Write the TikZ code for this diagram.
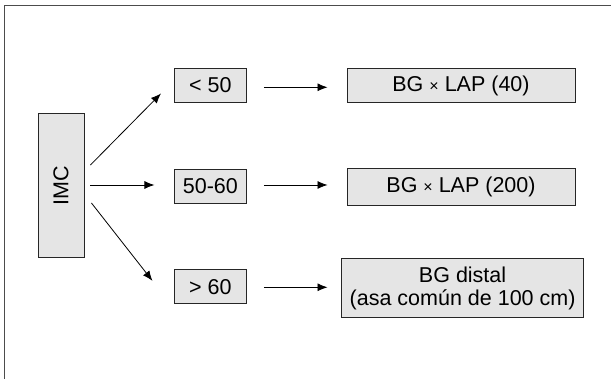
\documentclass[tikz,border=0pt]{standalone}
\usepackage{fontspec}
\setmainfont{Liberation Sans}
\usepackage{tikz}
\usetikzlibrary{arrows.meta,positioning}

\tikzset{
  box/.style={draw=black!85,fill=gray!20,line width=0.9pt,inner sep=0pt,
    font=\fontsize{21.5}{23}\selectfont,align=center},
  arr/.style={line width=0.8pt,-{Latex[length=10pt,width=8pt]}}
}

\begin{document}
\begin{tikzpicture}[x=1pt,y=1pt]
			\useasboundingbox (0,0) rectangle (611,379);
			\draw[black!70,line width=1pt] (4,-20) rectangle (630,373);
			\node[box,minimum width=144pt,minimum height=46pt,rotate=90] (imc) at (61,193.3) {IMC};
			\node[box,minimum width=72pt,minimum height=34pt] (lt) at (210.4,293.5) {< 50};
			\node[box,minimum width=72pt,minimum height=34pt] (mid) at (210.4,192.8) {50-60};
			\node[box,minimum width=72pt,minimum height=34pt] (gt) at (210.4,92.3) {> 60};
			\node[box,minimum width=228pt,minimum height=34pt] (bg1) at (461,293.5) {BG {\fontsize{16}{16}\selectfont×} LAP (40)};
			\node[box,minimum width=228pt,minimum height=37pt] (bg2) at (461,191.7) {BG {\fontsize{16}{16}\selectfont×} LAP (200)};
			\node[box,minimum width=241.6pt,minimum height=59.4pt] (bg3) at (462.6,91) {BG distal\\(asa común de 100 cm)};
			\draw[arr] ([shift={(6,20.7)}]imc.south) -- ([shift={(-13,9.4)}]lt.south west);
			\draw[arr] ([shift={(6,0.7)}]imc.south) -- ([shift={(-19.5,1.2)}]mid.west);
			\draw[arr] ([shift={(7,-17.3)}]imc.south) -- ([shift={(-21.5,-11.6)}]gt.north west);
			\draw[arr] ([shift={(17,-1.8)}]lt.east) -- ([shift={(-19,-1.8)}]bg1.west);
			\draw[arr] ([shift={(17,1.2)}]mid.east) -- ([shift={(-19,2.3)}]bg2.west);
			\draw[arr] ([shift={(17,-0.6)}]gt.east) -- ([shift={(-13.8,0.7)}]bg3.west);
		\end{tikzpicture}
\end{document}
